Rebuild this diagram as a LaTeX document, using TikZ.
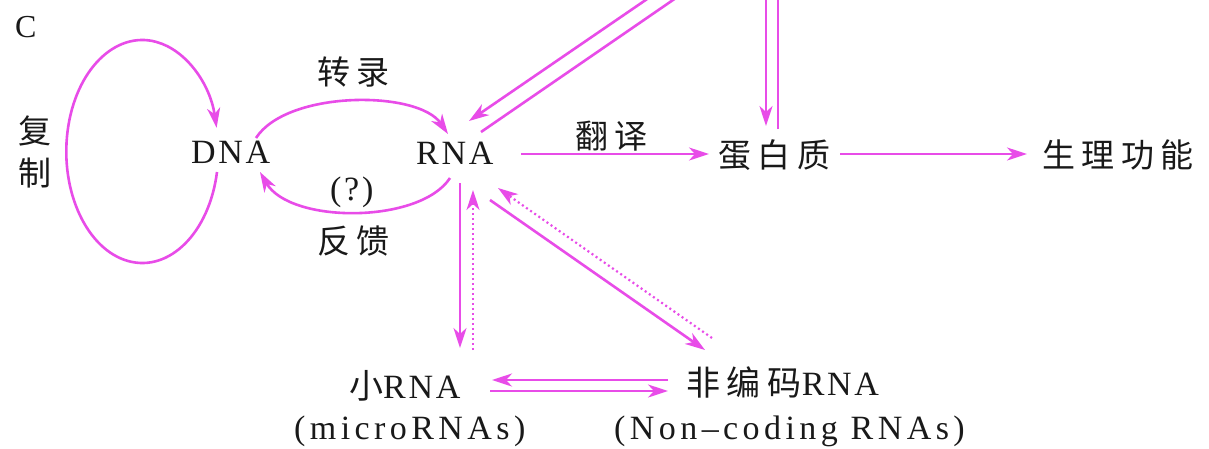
\documentclass[tikz,border=0pt]{standalone}
\usepackage{fontspec}
\setmainfont{Liberation Serif}
\newfontfamily\cjk[LetterSpace=20]{Noto Sans CJK SC}
\newfontfamily\lat[LetterSpace=8]{Liberation Serif}
\newfontfamily\latw[LetterSpace=13]{Liberation Serif}
\usetikzlibrary{arrows.meta}
\definecolor{mag}{RGB}{232,76,232}
\definecolor{ink}{RGB}{25,25,25}
\tikzset{
 lbl/.style={inner sep=0pt, anchor=base west, text=ink},
 cn/.style={lbl, font=\cjk\fontsize{33}{33}\selectfont},
 la/.style={lbl, font=\lat\fontsize{34}{34}\selectfont},
 law/.style={lbl, font=\latw\fontsize{34}{34}\selectfont},
 conn/.style={draw=mag, line width=2.6pt},
 tip/.style={-{Stealth[length=20pt,width=13pt,inset=6pt]}},
 arr/.style={conn, tip},
 dotline/.style={conn, line width=2.2pt, dash pattern=on 2pt off 3pt, tip},
}
\begin{document}
\begin{tikzpicture}[x=1pt,y=-1pt]
\useasboundingbox (0,0) rectangle (1209,448);
\clip (0,0) rectangle (1209,448);
\fill[white] (0,0) rectangle (1209,448);
% labels
\node[lbl, font=\fontsize{32}{32}\selectfont] (C) at (15,37) {C};
\node[cn] (fu) at (18,143) {复};
\node[cn] (zhi) at (18,185) {制};
\node[la] (DNA) at (191,163) {DNA};
\node[la] (RNA) at (416,164) {RNA};
\node[cn] (zhuanlu) at (317,84) {转录};
\node[cn] (fankui) at (317,253) {反馈};
\node[la] (q) at (330,200) {(?)};
\node[cn] (fanyi) at (575,148) {翻译};
\node[cn] (prot) at (718,167) {蛋白质};
\node[cn] (func) at (1042,167) {生理功能};
\node[la] (small) at (349,398) {{\cjk 小}RNA};
\node[law] (micro) at (294,439) {(microRNAs)};
\node[la] (nc) at (686,395) {{\cjk 非编码}RNA};
\node[law] (ncen) at (614,439) {(Non–coding RNAs)};
% coordinates off the top edge
\coordinate (t1) at (651.5,-4);
\coordinate (t2) at (678.8,-4);
\coordinate (t3) at (766,-4);
\coordinate (t4) at (778,-4);
% replication loop
\draw[arr] ([shift={(26,9)}]DNA.base west) arc[start angle=10.6, end angle=347.8, x radius=76, y radius=111.5];
% transcription
\draw[arr] ([shift={(65,-25)}]DNA.base west) .. controls (287,90) and (418,90) .. ([shift={(32,-30)}]RNA.base west);
% feedback
\draw[arr] ([shift={(34,14)}]RNA.base west) .. controls (420,224) and (290,224) .. ([shift={(69,9)}]DNA.base west);
% diagonal double lines to the top
\draw[arr] (t1) -- ([shift={(53,-43)}]RNA.base west);
\draw[conn] ([shift={(65,-32)}]RNA.base west) -- (t2);
% vertical double lines to protein
\draw[arr] (t3) -- ([shift={(48,-41)}]prot.base west);
\draw[conn] ([shift={(60,-38)}]prot.base west) -- (t4);
% translation
\draw[arr] ([shift={(105,-10)}]RNA.base west) -- ([shift={(-9,-13)}]prot.base west);
% protein -> function
\draw[arr] ([shift={(122,-13)}]prot.base west) -- ([shift={(-15,-13)}]func.base west);
% RNA <-> small RNA
\draw[arr] ([shift={(44,19)}]RNA.base west) -- ([shift={(111,-50)}]small.base west);
\draw[dotline] ([shift={(124,-48)}]small.base west) -- ([shift={(57,26)}]RNA.base west);
% RNA <-> non-coding RNA
\draw[arr] ([shift={(74,36)}]RNA.base west) -- ([shift={(19,-45)}]nc.base west);
\draw[dotline] ([shift={(26,-57)}]nc.base west) -- ([shift={(82,24)}]RNA.base west);
% small RNA <-> non-coding RNA
\draw[arr] ([shift={(-18,-15)}]nc.base west) -- ([shift={(143,-18)}]small.base west);
\draw[arr] ([shift={(141,-7)}]small.base west) -- ([shift={(-18,-4)}]nc.base west);
\end{tikzpicture}
\end{document}
